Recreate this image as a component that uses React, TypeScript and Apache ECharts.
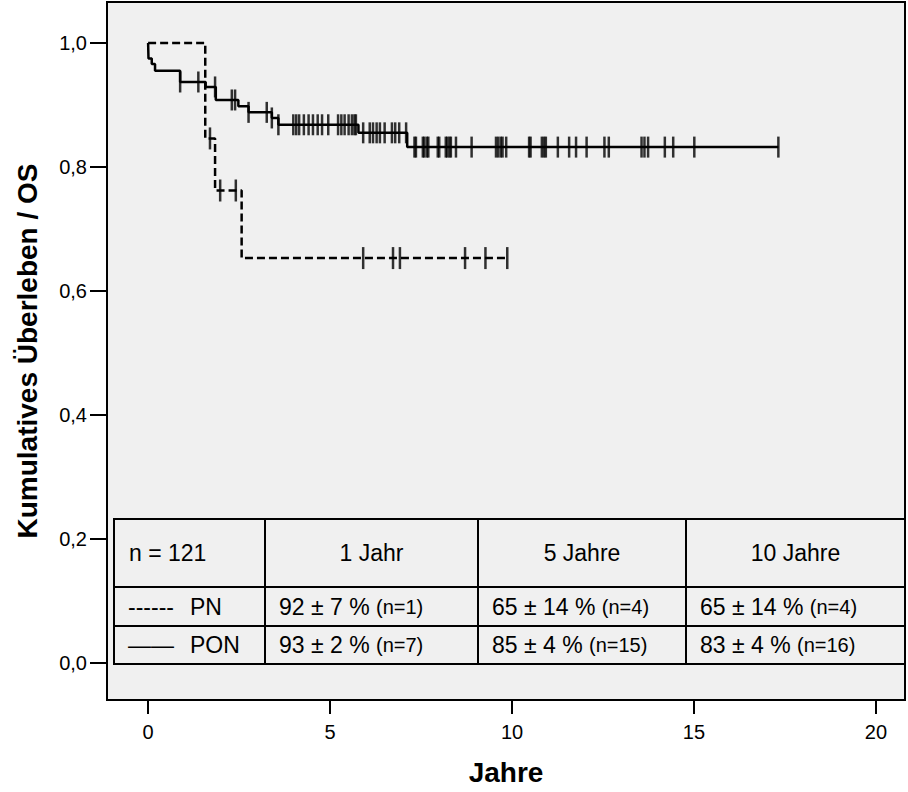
import React, { useEffect, useRef } from "react";
import * as echarts from "echarts";

// ---- Kaplan-Meier data (years, cumulative survival) ----
const pnTimes = [0, 1.57, 1.84, 2.57, 9.87];
const pnSurv = [1.0, 0.846, 0.762, 0.653, 0.653];
const pnCensor = [1.7, 1.98, 2.41, 5.91, 6.73, 6.92, 8.71, 9.27, 9.87];

const ponTimes = [0, 0.01, 0.1, 0.19, 0.88, 1.58, 1.86, 2.48, 2.76, 3.4, 3.58, 5.78, 7.12, 17.32];
const ponSurv = [1.0, 0.975, 0.966, 0.955, 0.937, 0.929, 0.908, 0.898, 0.888, 0.879, 0.868, 0.855, 0.832, 0.832];
const ponCensor = [
  0.88, 1.38, 1.84, 2.3, 2.39, 2.76, 3.26, 3.4, 3.58, 3.99, 4.07, 4.15, 4.28, 4.41, 4.53, 4.66, 4.78, 4.95,
  5.22, 5.31, 5.4, 5.51, 5.6, 5.67, 5.71, 5.91, 6.09, 6.18, 6.28, 6.37, 6.5, 6.7, 6.79, 6.9, 7.09, 7.32, 7.36,
  7.55, 7.59, 7.66, 7.7, 7.96, 8.0, 8.18, 8.22, 8.28, 8.32, 8.46, 8.89, 9.56, 9.62, 9.69, 9.74, 9.84, 10.47,
  10.51, 10.82, 10.88, 10.93, 11.26, 11.57, 11.76, 12.05, 12.54, 12.66, 13.56, 13.64, 13.74, 14.2, 14.43,
  15.01, 17.32,
];

// ---- axis ticks ----
const xTicks = [0, 5, 10, 15, 20];
const yTicks = [0, 0.2, 0.4, 0.6, 0.8, 1.0];

// ---- table ----
const tableHeaders = ["n = 121", "1 Jahr", "5 Jahre", "10 Jahre"];
const groupNames = ["PN", "PON"];
const groupLineGlyphs = ["------", "——"];
const pnRates = ["92 ± 7 %", "65 ± 14 %", "65 ± 14 %"];
const pnCounts = ["(n=1)", "(n=4)", "(n=4)"];
const ponRates = ["93 ± 2 %", "85 ± 4 %", "83 ± 4 %"];
const ponCounts = ["(n=7)", "(n=15)", "(n=16)"];

const FONT = "'Liberation Sans', Arial, Helvetica, sans-serif";

function survAt(times: number[], surv: number[], t: number) {
  let s = surv[0];
  for (let i = 0; i < times.length; i++) {
    if (times[i] <= t + 1e-9) s = surv[i];
  }
  return s;
}

export default function App() {
  const ref = useRef<HTMLDivElement>(null);

  useEffect(() => {
    const chart = echarts.init(ref.current!, null, { renderer: "svg" });

    const pnLine = pnTimes.map((t, i) => [t, pnSurv[i]]);
    const ponLine = ponTimes.map((t, i) => [t, ponSurv[i]]);
    const pnMarks = pnCensor.map((t) => [t, survAt(pnTimes, pnSurv, t)]);
    const ponMarks = ponCensor.map((t) => [t, survAt(ponTimes, ponSurv, t)]);

    // table layout (pixels)
    const tL = 114, tR = 905, tTop = 519, tH1 = 587, tH2 = 626, tBot = 664;
    const cols = [tL, 265, 478, 686, tR];
    const lw = 2;
    const lineStyle = { stroke: "#000", lineWidth: lw };
    const graphics: any[] = [];
    graphics.push({
      type: "rect",
      shape: { x: tL, y: tTop, width: tR - tL, height: tBot - tTop },
      style: { fill: "none", stroke: "#000", lineWidth: lw },
      silent: true,
    });
    [tH1, tH2].forEach((y) =>
      graphics.push({ type: "line", shape: { x1: tL, y1: y, x2: tR, y2: y }, style: lineStyle, silent: true })
    );
    cols.slice(1, 4).forEach((x) =>
      graphics.push({ type: "line", shape: { x1: x, y1: tTop, x2: x, y2: tBot }, style: lineStyle, silent: true })
    );
    const hy = (tTop + tH1) / 2;
    const r1 = (tH1 + tH2) / 2;
    const r2 = (tH2 + tBot) / 2;
    const big = 23;
    const small = 20;
    graphics.push({
      type: "text",
      x: 129,
      y: hy,
      style: { text: tableHeaders[0], font: `${big}px ${FONT}`, fill: "#000", align: "left", verticalAlign: "middle" },
      silent: true,
    });
    for (let c = 1; c < 4; c++) {
      graphics.push({
        type: "text",
        x: (cols[c] + cols[c + 1]) / 2,
        y: hy,
        style: { text: tableHeaders[c], font: `${big}px ${FONT}`, fill: "#000", align: "center", verticalAlign: "middle" },
        silent: true,
      });
    }
    const rows = [
      { y: r1, glyph: groupLineGlyphs[0], name: groupNames[0], rates: pnRates, counts: pnCounts },
      { y: r2, glyph: groupLineGlyphs[1], name: groupNames[1], rates: ponRates, counts: ponCounts },
    ];
    rows.forEach((r) => {
      graphics.push({
        type: "text",
        x: 128,
        y: r.y,
        style: { text: r.glyph, font: `${big}px ${FONT}`, fill: "#000", align: "left", verticalAlign: "middle" },
        silent: true,
      });
      graphics.push({
        type: "text",
        x: 190,
        y: r.y,
        style: { text: r.name, font: `${big}px ${FONT}`, fill: "#000", align: "left", verticalAlign: "middle" },
        silent: true,
      });
      for (let c = 0; c < 3; c++) {
        graphics.push({
          type: "text",
          x: cols[c + 1] + 14,
          y: r.y,
          style: {
            text: `{a|${r.rates[c]} }{b|${r.counts[c]}}`,
            align: "left",
            verticalAlign: "middle",
            rich: {
              a: { fontSize: big, fontFamily: FONT, fill: "#000" },
              b: { fontSize: small, fontFamily: FONT, fill: "#000" },
            },
          },
          silent: true,
        });
      }
    });

    const option: any = {
      animation: false,
      backgroundColor: "#ffffff",
      textStyle: { fontFamily: FONT },
      grid: {
        left: 107,
        top: 2,
        width: 798,
        height: 698,
        show: true,
        backgroundColor: "#f0f0f0",
        borderColor: "#000",
        borderWidth: 2,
        containLabel: false,
        outerBoundsMode: "none",
      },
      xAxis: {
        type: "value",
        min: -1.13,
        max: 20.8,
        axisLine: { show: false, onZero: false },
        splitLine: { show: false },
        axisTick: { show: true, customValues: xTicks, length: 14, lineStyle: { color: "#000", width: 2 } },
        axisLabel: { customValues: xTicks, margin: 22, fontSize: 20, color: "#000", fontFamily: FONT },
        name: "Jahre",
        nameLocation: "middle",
        nameGap: 58,
        nameTextStyle: { fontSize: 28, fontWeight: "bold", color: "#000", fontFamily: FONT },
      },
      yAxis: {
        type: "value",
        min: -0.0597,
        max: 1.066,
        axisLine: { show: false, onZero: false },
        splitLine: { show: false },
        axisTick: { show: true, customValues: yTicks, length: 17, lineStyle: { color: "#000", width: 2 } },
        axisLabel: {
          customValues: yTicks,
          margin: 20,
          fontSize: 20,
          color: "#000",
          fontFamily: FONT,
          formatter: (v: number) => v.toFixed(1).replace(".", ","),
        },
        name: "Kumulatives Überleben / OS",
        nameLocation: "middle",
        nameGap: 66,
        nameRotate: 90,
        nameTextStyle: { fontSize: 28, fontWeight: "bold", color: "#000", fontFamily: FONT },
      },
      series: [
        {
          type: "line",
          name: "PON",
          data: ponLine,
          step: "end",
          symbol: "none",
          lineStyle: { color: "#000", width: 2.5, type: "solid" },
          silent: true,
          z: 2,
        },
        {
          type: "scatter",
          name: "PON zensiert",
          data: ponMarks,
          symbol: "rect",
          symbolSize: [2.5, 21],
          itemStyle: { color: "#000" },
          silent: true,
          z: 3,
        },
        {
          type: "line",
          name: "PN",
          data: pnLine,
          step: "end",
          symbol: "none",
          lineStyle: { color: "#000", width: 2.5, type: [8, 4] },
          silent: true,
          z: 4,
        },
        {
          type: "scatter",
          name: "PN zensiert",
          data: pnMarks,
          symbol: "rect",
          symbolSize: [2.5, 22],
          itemStyle: { color: "#000" },
          silent: true,
          z: 5,
        },
      ],
      graphic: graphics,
    };

    chart.setOption(option);
    return () => chart.dispose();
  }, []);

  return (
    <div
      ref={ref}
      style={{ position: "fixed", left: 0, top: 0, width: 908, height: 792, background: "#fff" }}
    />
  );
}
